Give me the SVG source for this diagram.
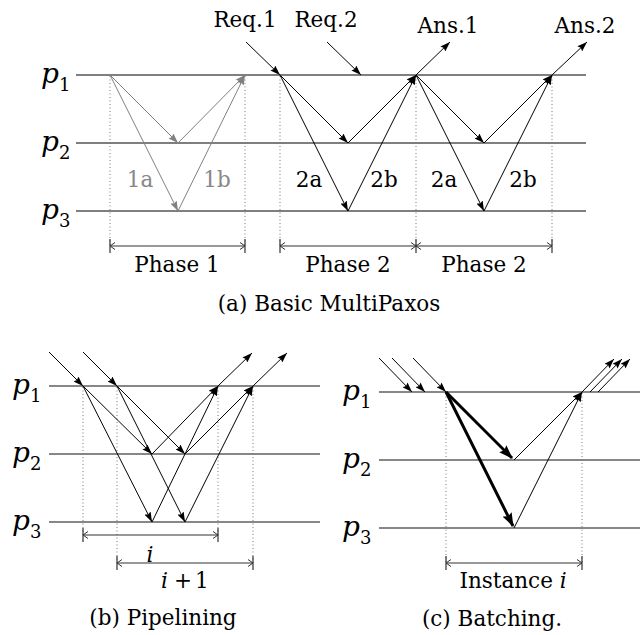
<svg xmlns="http://www.w3.org/2000/svg" width="640" height="635" viewBox="0 0 640 635">
<style>
text{font-family:"DejaVu Serif","Liberation Serif",serif;font-size:21.5px;fill:#000}
.mid{text-anchor:middle}
.pl{font-style:italic;font-size:28px}
.sub{font-style:normal;font-size:18px}
.it{font-style:italic}
.gt{fill:#888}
.proc{stroke:#555;stroke-width:1.3;fill:none}
.proc2{stroke:#111;stroke-width:1.2;fill:none}
.msg{stroke:#000;stroke-width:1;fill:none;marker-end:url(#ah)}
.gmsg{stroke:#808080;stroke-width:1;fill:none;marker-end:url(#ahg)}
.thick{stroke:#000;stroke-width:3;fill:none;marker-end:url(#aht)}
.dot{stroke:#777;stroke-width:1;stroke-dasharray:1 2.5;fill:none}
.dim{stroke:#333;stroke-width:1.2;fill:none;marker-start:url(#dm);marker-end:url(#dm)}
.tick{stroke:#333;stroke-width:1.2}
</style>
<defs>
<marker id="ah" viewBox="0 0 10 7" refX="10" refY="3.5" markerWidth="10" markerHeight="7" markerUnits="userSpaceOnUse" orient="auto"><path d="M0,0 L10,3.5 L0,7 L1.5,3.5 z" fill="#000"/></marker>
<marker id="ahg" viewBox="0 0 10 7" refX="10" refY="3.5" markerWidth="10" markerHeight="7" markerUnits="userSpaceOnUse" orient="auto"><path d="M0,0 L10,3.5 L0,7 L1.5,3.5 z" fill="#808080"/></marker>
<marker id="aht" viewBox="0 0 14 10" refX="13" refY="5" markerWidth="14" markerHeight="10" markerUnits="userSpaceOnUse" orient="auto"><path d="M0,0 L14,5 L0,10 L2,5 z" fill="#000"/></marker>
<marker id="dm" viewBox="-6 -4 7 8" refX="0" refY="0" markerWidth="7" markerHeight="8" markerUnits="userSpaceOnUse" orient="auto-start-reverse"><path d="M-5,-3.5 L0,0 L-5,3.5" fill="none" stroke="#333" stroke-width="1"/></marker>
</defs>

<!-- (a) Basic MultiPaxos -->
<g id="panel-a">
  <g id="a-processes">
    <path class="proc" d="M76,75 H586 M76,143 H586 M76,211 H586"/>
    <text x="41" y="83" class="pl">p<tspan class="sub" dy="8">1</tspan></text>
    <text x="41" y="151" class="pl">p<tspan class="sub" dy="8">2</tspan></text>
    <text x="41" y="219" class="pl">p<tspan class="sub" dy="8">3</tspan></text>
  </g>
  <g id="a-guides">
    <path class="dot" d="M110,76 V246 M245,76 V246 M280,76 V246 M416,76 V246 M552,76 V246"/>
    <path class="dim" d="M110,246 H245"/>
    <path class="dim" d="M280,246 H416"/>
    <path class="dim" d="M416,246 H552"/>
    <path class="tick" d="M110,239 V253 M245,239 V253 M280,239 V253 M416,239 V253 M552,239 V253"/>
  </g>
  <g id="a-connectors">
    <path class="gmsg" d="M110,75 L178,143"/>
    <path class="gmsg" d="M110,75 L178,211"/>
    <path class="gmsg" d="M178,143 L245,75"/>
    <path class="gmsg" d="M178,211 L245,75"/>
    <path class="msg" d="M246,42 L280,75"/>
    <path class="msg" d="M327,42 L361,75"/>
    <path class="msg" d="M280,75 L348,143"/>
    <path class="msg" d="M280,75 L348,211"/>
    <path class="msg" d="M348,143 L416,75"/>
    <path class="msg" d="M348,211 L416,75"/>
    <path class="msg" d="M416,75 L450,42"/>
    <path class="msg" d="M416,75 L484,143"/>
    <path class="msg" d="M416,75 L484,211"/>
    <path class="msg" d="M484,143 L552,75"/>
    <path class="msg" d="M484,211 L552,75"/>
    <path class="msg" d="M552,75 L587,42"/>
  </g>
  <g id="a-labels">
    <text x="245" y="27" class="mid">Req.1</text>
    <text x="326" y="27" class="mid">Req.2</text>
    <text x="448" y="33" class="mid">Ans.1</text>
    <text x="585" y="33" class="mid">Ans.2</text>
    <text x="140" y="187" class="mid gt">1a</text>
    <text x="217" y="187" class="mid gt">1b</text>
    <text x="309" y="187" class="mid">2a</text>
    <text x="384" y="187" class="mid">2b</text>
    <text x="444" y="187" class="mid">2a</text>
    <text x="523" y="187" class="mid">2b</text>
    <text x="177" y="272" class="mid">Phase 1</text>
    <text x="348" y="272" class="mid">Phase 2</text>
    <text x="484" y="272" class="mid">Phase 2</text>
    <text x="329" y="311" class="mid">(a) Basic MultiPaxos</text>
  </g>
</g>

<!-- (b) Pipelining -->
<g id="panel-b">
  <g id="b-processes">
    <path class="proc2" d="M49,386 H320 M49,454 H320 M49,522 H320"/>
    <text x="12" y="394" class="pl">p<tspan class="sub" dy="8">1</tspan></text>
    <text x="12" y="462" class="pl">p<tspan class="sub" dy="8">2</tspan></text>
    <text x="12" y="530" class="pl">p<tspan class="sub" dy="8">3</tspan></text>
  </g>
  <g id="b-guides">
    <path class="dot" d="M83,387 V535 M218,387 V535 M117,387 V563 M253,387 V563"/>
    <path class="dim" d="M83,535 H218"/>
    <path class="dim" d="M117,563 H253"/>
    <path class="tick" d="M83,528 V542 M218,528 V542 M117,556 V570 M253,556 V570"/>
  </g>
  <g id="b-connectors">
    <path class="msg" d="M49,352 L83,386"/>
    <path class="msg" d="M83,352 L117,386"/>
    <path class="msg" d="M83,386 L152,454"/>
    <path class="msg" d="M83,386 L152,522"/>
    <path class="msg" d="M117,386 L185,454"/>
    <path class="msg" d="M117,386 L185,522"/>
    <path class="msg" d="M152,454 L218,386"/>
    <path class="msg" d="M152,522 L218,386"/>
    <path class="msg" d="M185,454 L253,386"/>
    <path class="msg" d="M185,522 L253,386"/>
    <path class="msg" d="M218,386 L252,353"/>
    <path class="msg" d="M253,386 L287,353"/>
  </g>
  <g id="b-labels">
    <text x="150" y="562" class="mid it">i</text>
    <text y="588"><tspan x="161" class="it">i</tspan><tspan x="174">+</tspan><tspan x="195">1</tspan></text>
    <text x="163" y="625" class="mid">(b) Pipelining</text>
  </g>
</g>

<!-- (c) Batching -->
<g id="panel-c">
  <g id="c-processes">
    <path class="proc2" d="M379,392 H640 M379,460 H640 M379,528 H640"/>
    <text x="342" y="400" class="pl">p<tspan class="sub" dy="8">1</tspan></text>
    <text x="342" y="468" class="pl">p<tspan class="sub" dy="8">2</tspan></text>
    <text x="342" y="536" class="pl">p<tspan class="sub" dy="8">3</tspan></text>
  </g>
  <g id="c-guides">
    <path class="dot" d="M446,393 V563 M582,393 V563"/>
    <path class="dim" d="M446,563 H582"/>
    <path class="tick" d="M446,556 V570 M582,556 V570"/>
  </g>
  <g id="c-connectors">
    <path class="msg" d="M379,358 L412,392"/>
    <path class="msg" d="M392,358 L425,392"/>
    <path class="msg" d="M413,358 L446,392"/>
    <path class="thick" d="M446,392 L512,458"/>
    <path class="thick" d="M446,392 L513,526"/>
    <path class="msg" d="M514,460 L582,392"/>
    <path class="msg" d="M514,528 L582,392"/>
    <path class="msg" d="M582,392 L614,359"/>
    <path class="msg" d="M590,392 L622,359"/>
    <path class="msg" d="M598,392 L630,359"/>
  </g>
  <g id="c-labels">
    <text x="513" y="588" class="mid">Instance <tspan class="it">i</tspan></text>
    <text x="492" y="626" class="mid">(c) Batching.</text>
  </g>
</g>
</svg>
